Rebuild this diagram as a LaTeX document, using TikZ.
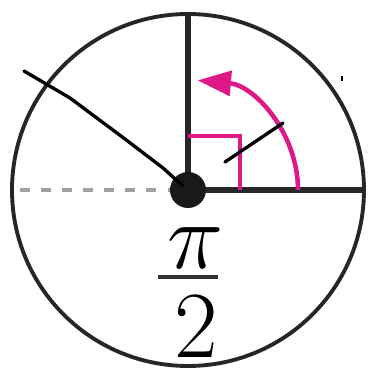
\documentclass[tikz,border=0pt]{standalone}
\usepackage{amsmath}
\usetikzlibrary{arrows.meta}
\definecolor{anglepink}{RGB}{222,24,136}
\definecolor{axisgray}{RGB}{160,160,160}
\tikzset{
  rimline/.style={line width=2.2pt, black!85},
  ray/.style={line width=3.3pt, black!85},
  turnarc/.style={line width=2.6pt, anglepink},
  penline/.style={line width=1.9pt, black, line join=round, line cap=round},
  bigmath/.style={scale=2.17, inner sep=0pt}
}
\begin{document}
\begin{tikzpicture}[x=0.02cm, y=0.02cm]
    \useasboundingbox (-188,-179) rectangle (182,190);
    \def\r{176}
    \coordinate (O) at (0,0);
    \coordinate (top) at (90:\r);
    \coordinate (right) at (0:\r);
    \coordinate (left) at (-168,0);
    \draw[rimline] (O) circle (\r);
    \draw[axisgray, line width=1.8pt, dash pattern=on 5.5pt off 6.5pt] (left) -- (O);
    \draw[ray] (O) -- (top);
    \draw[ray] (O) -- (right);
    % right angle mark and turning arrow
    \draw[turnarc] (0,54) -- (52,54) -- (52,0);
    \draw[turnarc, -{Triangle[length=19pt, width=14pt]}] (0:110) arc (0:85:110);
    \fill[black!90] (O) circle (18);
    % the label pi over 2
    \node[bigmath] (num) at (8,-58) {\Huge$\pi$};
    \node[bigmath] (den) at (8,-137) {\Huge$2$};
    \draw[black!80, line width=2.3pt] (-30,-87) -- (30,-87);
    % pen strokes
    \draw[penline] (-164,119) -- (-118,92) -- (-63,51) -- (-25,22) -- (-5,4);
    \draw[penline] (37,28) -- (95,67);
    \fill (153,109) rectangle (155,114);
\end{tikzpicture}
\end{document}
